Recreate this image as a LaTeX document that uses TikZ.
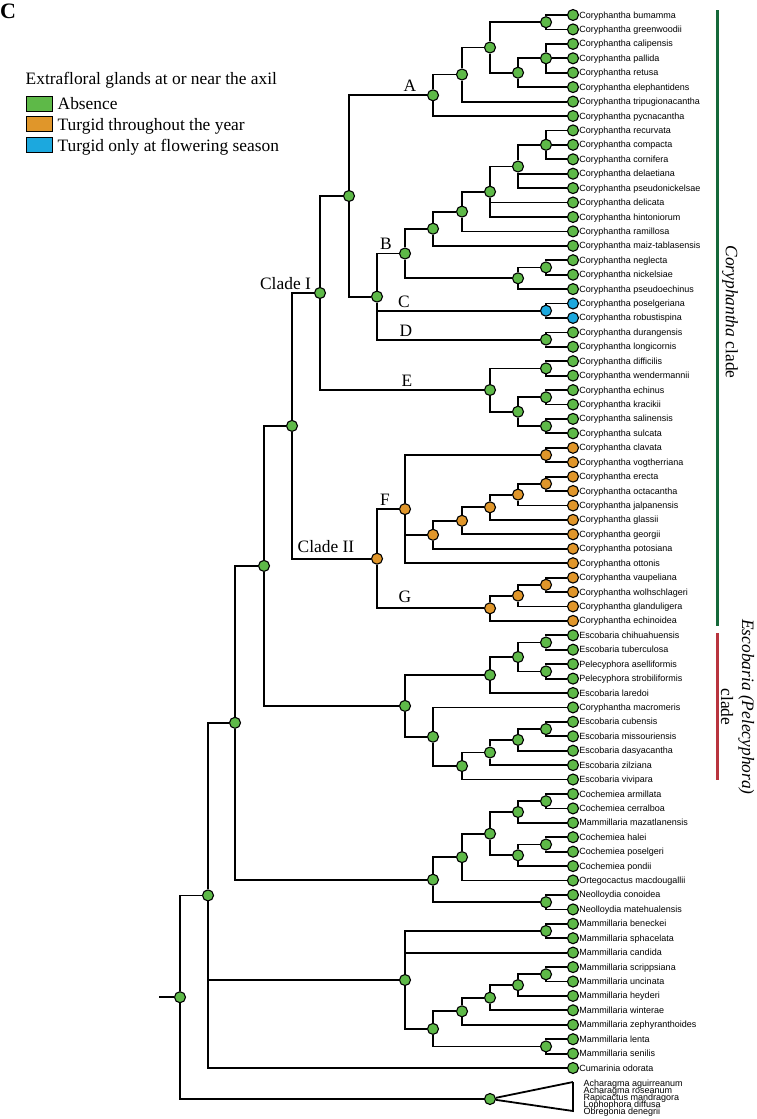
\documentclass[tikz,border=0pt]{standalone}
\usepackage{fontspec}
\setmainfont{Liberation Serif}
\newfontfamily\taxfont{Liberation Sans}
\usepackage{tikz}
\definecolor{absent}{RGB}{94,185,72}
\definecolor{yearly}{RGB}{224,150,42}
\definecolor{seasonal}{RGB}{28,168,222}
\definecolor{corygreen}{RGB}{22,104,58}
\definecolor{escored}{RGB}{184,52,62}
\tikzstyle{state}=[circle, draw, line width=1.1pt, inner sep=0pt, minimum size=11pt, label distance=4.5pt]
\tikzstyle{absence}=[state, fill=absent]
\tikzstyle{turgid}=[state, fill=yearly]
\tikzstyle{flowering}=[state, fill=seasonal]
\tikzstyle{taxon}=[font=\taxfont\fontsize{9}{9}\selectfont, inner sep=0pt, text height=7pt, text depth=1pt]
\tikzstyle{clade}=[font=\fontsize{17.4}{21}\selectfont, inner sep=0pt]
\tikzstyle{legbox}=[draw, line width=1pt, minimum width=26pt, minimum height=15pt, inner sep=0pt]
\newcommand{\absence}{\node[absence]}
\newcommand{\turgid}{\node[turgid]}
\newcommand{\flowering}{\node[flowering]}

\begin{document}
\begin{tikzpicture}[x=1pt, y=-1pt
    ,every edge/.style={draw, line width=1.8pt, to path={|- (\tikztotarget)}}
    ,straight/.style={to path={-- (\tikztotarget)}}
]
\useasboundingbox (0,0) rectangle (756,1119);
% panel and legend
\node[anchor=base west, inner sep=0pt, font=\bfseries\fontsize{22}{22}\selectfont] (panel) at (0,18.5) {C};
\node[clade, anchor=base west] (legtitle) at (25.5,84) {Extrafloral glands at or near the axil};
\node[legbox, fill=absent] (kabs) at (39.5,103.5) {};
\node[legbox, fill=yearly] (kyear) at (39.5,123.5) {};
\node[legbox, fill=seasonal] (kseas) at (39.5,144.5) {};
\node[clade, anchor=base west] (tabs) at (57.5,109.5) {Absence};
\node[clade, anchor=base west] (tyear) at (57.5,130) {Turgid throughout the year};
\node[clade, anchor=base west] (tseas) at (57.5,151) {Turgid only at flowering season};

% tips
\absence (bum) at (573,15.0) [label={[taxon]right:Coryphantha bumamma}] {};
\absence (gre) at (573,29.4) [label={[taxon]right:Coryphantha greenwoodii}] {};
\absence (cal) at (573,43.9) [label={[taxon]right:Coryphantha calipensis}] {};
\absence (pal) at (573,58.3) [label={[taxon]right:Coryphantha pallida}] {};
\absence (ret) at (573,72.7) [label={[taxon]right:Coryphantha retusa}] {};
\absence (ele) at (573,87.1) [label={[taxon]right:Coryphantha elephantidens}] {};
\absence (tri) at (573,101.6) [label={[taxon]right:Coryphantha tripugionacantha}] {};
\absence (pyc) at (573,116.0) [label={[taxon]right:Coryphantha pycnacantha}] {};
\absence (rec) at (573,130.4) [label={[taxon]right:Coryphantha recurvata}] {};
\absence (com) at (573,144.8) [label={[taxon]right:Coryphantha compacta}] {};
\absence (cor) at (573,159.3) [label={[taxon]right:Coryphantha cornifera}] {};
\absence (dlt) at (573,173.7) [label={[taxon]right:Coryphantha delaetiana}] {};
\absence (psn) at (573,188.1) [label={[taxon]right:Coryphantha pseudonickelsae}] {};
\absence (dlc) at (573,202.5) [label={[taxon]right:Coryphantha delicata}] {};
\absence (hin) at (573,217.0) [label={[taxon]right:Coryphantha hintoniorum}] {};
\absence (ram) at (573,231.4) [label={[taxon]right:Coryphantha ramillosa}] {};
\absence (mai) at (573,245.8) [label={[taxon]right:Coryphantha maiz-tablasensis}] {};
\absence (neg) at (573,260.2) [label={[taxon]right:Coryphantha neglecta}] {};
\absence (nic) at (573,274.7) [label={[taxon]right:Coryphantha nickelsiae}] {};
\absence (pse) at (573,289.1) [label={[taxon]right:Coryphantha pseudoechinus}] {};
\flowering (pos) at (573,303.5) [label={[taxon]right:Coryphantha poselgeriana}] {};
\flowering (rob) at (573,317.9) [label={[taxon]right:Coryphantha robustispina}] {};
\absence (dur) at (573,332.4) [label={[taxon]right:Coryphantha durangensis}] {};
\absence (lon) at (573,346.8) [label={[taxon]right:Coryphantha longicornis}] {};
\absence (dif) at (573,361.2) [label={[taxon]right:Coryphantha difficilis}] {};
\absence (wen) at (573,375.6) [label={[taxon]right:Coryphantha wendermannii}] {};
\absence (ech) at (573,390.1) [label={[taxon]right:Coryphantha echinus}] {};
\absence (kra) at (573,404.5) [label={[taxon]right:Coryphantha kracikii}] {};
\absence (sal) at (573,418.9) [label={[taxon]right:Coryphantha salinensis}] {};
\absence (sul) at (573,433.3) [label={[taxon]right:Coryphantha sulcata}] {};
\turgid (cla) at (573,447.8) [label={[taxon]right:Coryphantha clavata}] {};
\turgid (vog) at (573,462.2) [label={[taxon]right:Coryphantha vogtherriana}] {};
\turgid (ere) at (573,476.6) [label={[taxon]right:Coryphantha erecta}] {};
\turgid (oct) at (573,491.0) [label={[taxon]right:Coryphantha octacantha}] {};
\turgid (jal) at (573,505.5) [label={[taxon]right:Coryphantha jalpanensis}] {};
\turgid (gla) at (573,519.9) [label={[taxon]right:Coryphantha glassii}] {};
\turgid (geo) at (573,534.3) [label={[taxon]right:Coryphantha georgii}] {};
\turgid (pot) at (573,548.7) [label={[taxon]right:Coryphantha potosiana}] {};
\turgid (ott) at (573,563.2) [label={[taxon]right:Coryphantha ottonis}] {};
\turgid (vau) at (573,577.6) [label={[taxon]right:Coryphantha vaupeliana}] {};
\turgid (wol) at (573,592.0) [label={[taxon]right:Coryphantha wolhschlageri}] {};
\turgid (gld) at (573,606.4) [label={[taxon]right:Coryphantha glanduligera}] {};
\turgid (eci) at (573,620.9) [label={[taxon]right:Coryphantha echinoidea}] {};
\absence (chi) at (573,635.3) [label={[taxon]right:Escobaria chihuahuensis}] {};
\absence (tub) at (573,649.7) [label={[taxon]right:Escobaria tuberculosa}] {};
\absence (ase) at (573,664.1) [label={[taxon]right:Pelecyphora aselliformis}] {};
\absence (str) at (573,678.6) [label={[taxon]right:Pelecyphora strobiliformis}] {};
\absence (lar) at (573,693.0) [label={[taxon]right:Escobaria laredoi}] {};
\absence (mac) at (573,707.4) [label={[taxon]right:Coryphantha macromeris}] {};
\absence (cub) at (573,721.8) [label={[taxon]right:Escobaria cubensis}] {};
\absence (mis) at (573,736.3) [label={[taxon]right:Escobaria missouriensis}] {};
\absence (das) at (573,750.7) [label={[taxon]right:Escobaria dasyacantha}] {};
\absence (zil) at (573,765.1) [label={[taxon]right:Escobaria zilziana}] {};
\absence (viv) at (573,779.5) [label={[taxon]right:Escobaria vivipara}] {};
\absence (arm) at (573,794.0) [label={[taxon]right:Cochemiea armillata}] {};
\absence (cer) at (573,808.4) [label={[taxon]right:Cochemiea cerralboa}] {};
\absence (maz) at (573,822.8) [label={[taxon]right:Mammillaria mazatlanensis}] {};
\absence (hal) at (573,837.2) [label={[taxon]right:Cochemiea halei}] {};
\absence (psg) at (573,851.7) [label={[taxon]right:Cochemiea poselgeri}] {};
\absence (pon) at (573,866.1) [label={[taxon]right:Cochemiea pondii}] {};
\absence (ort) at (573,880.5) [label={[taxon]right:Ortegocactus macdougallii}] {};
\absence (con) at (573,894.9) [label={[taxon]right:Neolloydia conoidea}] {};
\absence (mat) at (573,909.4) [label={[taxon]right:Neolloydia matehualensis}] {};
\absence (ben) at (573,923.8) [label={[taxon]right:Mammillaria beneckei}] {};
\absence (sph) at (573,938.2) [label={[taxon]right:Mammillaria sphacelata}] {};
\absence (can) at (573,952.6) [label={[taxon]right:Mammillaria candida}] {};
\absence (scr) at (573,967.1) [label={[taxon]right:Mammillaria scrippsiana}] {};
\absence (unc) at (573,981.5) [label={[taxon]right:Mammillaria uncinata}] {};
\absence (hey) at (573,995.9) [label={[taxon]right:Mammillaria heyderi}] {};
\absence (win) at (573,1010.3) [label={[taxon]right:Mammillaria winterae}] {};
\absence (zep) at (573,1024.8) [label={[taxon]right:Mammillaria zephyranthoides}] {};
\absence (len) at (573,1039.2) [label={[taxon]right:Mammillaria lenta}] {};
\absence (sen) at (573,1053.6) [label={[taxon]right:Mammillaria senilis}] {};
\absence (cum) at (573,1068.0) [label={[taxon]right:Cumarinia odorata}] {};

% ancestral states
\absence (bg) at (546,22.2) {};
\absence (cpr) at (546,58.3) {};
\absence (cpre) at (518,72.7) {};
\absence (a4) at (490,47.5) {};
\absence (a5) at (462,74.5) {};
\absence (cA) at (433,95.3) {};
\absence (rcc) at (546,144.8) {};
\absence (b2) at (518,166.5) {};
\absence (b3) at (490,191.7) {};
\absence (b4) at (462,211.6) {};
\absence (b5) at (433,228.7) {};
\absence (nn) at (546,267.4) {};
\absence (b6) at (518,278.3) {};
\absence (cB) at (405,253.5) {};
\flowering (cC) at (546,310.7) {};
\absence (cD) at (546,339.6) {};
\absence (bcd) at (377,296.6) {};
\absence (abcd) at (349,196.0) {};
\absence (dw) at (546,368.4) {};
\absence (ek) at (546,397.3) {};
\absence (ss) at (546,426.1) {};
\absence (e2) at (518,411.7) {};
\absence (cE) at (490,390.0) {};
\absence (cladeI) at (320,293.0) {};
\turgid (cv) at (546,455.0) {};
\turgid (eo) at (546,483.8) {};
\turgid (f2) at (518,494.6) {};
\turgid (f3) at (490,507.3) {};
\turgid (f4) at (462,520.8) {};
\turgid (f5) at (433,534.8) {};
\turgid (cF) at (405,509.1) {};
\turgid (vw) at (546,584.8) {};
\turgid (g2) at (518,595.6) {};
\turgid (cG) at (490,608.3) {};
\turgid (cladeII) at (377,558.7) {};
\absence (core) at (292,425.9) {};
\absence (ct) at (546,642.5) {};
\absence (as) at (546,671.4) {};
\absence (s1) at (518,657.0) {};
\absence (s2) at (490,675.0) {};
\absence (cm) at (546,729.1) {};
\absence (s3) at (518,739.9) {};
\absence (s4) at (490,752.5) {};
\absence (s5) at (462,766.0) {};
\absence (s6) at (433,736.7) {};
\absence (esco) at (405,705.9) {};
\absence (cory) at (264,565.9) {};
\absence (ac) at (546,801.2) {};
\absence (m1) at (518,812.0) {};
\absence (hp) at (546,844.5) {};
\absence (m2) at (518,855.3) {};
\absence (m3) at (490,833.7) {};
\absence (m4) at (462,857.1) {};
\absence (neo) at (546,902.2) {};
\absence (coch) at (433,879.7) {};
\absence (big) at (235,722.8) {};
\absence (bs) at (546,931.0) {};
\absence (su) at (546,974.3) {};
\absence (k2) at (518,985.1) {};
\absence (k3) at (490,997.7) {};
\absence (k4) at (462,1011.3) {};
\absence (ls) at (546,1046.4) {};
\absence (k5) at (433,1028.9) {};
\absence (mam) at (405,980.0) {};
\absence (ingroup) at (208,895.4) {};
\absence (outg) at (490,1099) {};
\absence (root) at (180,997.2) {};
\coordinate (stem) at (159,997.2);
\coordinate (tritop) at (573,1082);
\coordinate (tribot) at (573,1111);

\path
(bg) edge (bum) edge (gre)
(cpr) edge (cal) edge[straight] (pal) edge (ret)
(cpre) edge (cpr) edge (ele)
(a4) edge (bg) edge (cpre)
(a5) edge (a4) edge (tri)
(cA) edge (a5) edge (pyc)
(rcc) edge (rec) edge[straight] (com) edge (cor)
(b2) edge (rcc) edge (dlt) edge (psn)
(b3) edge (b2) edge (dlc) edge (hin)
(b4) edge (b3) edge (ram)
(b5) edge (b4) edge (mai)
(nn) edge (neg) edge (nic)
(b6) edge (nn) edge (pse)
(cB) edge (b5) edge (b6)
(cC) edge (pos) edge (rob)
(cD) edge (dur) edge (lon)
(bcd) edge (cB) edge (cC) edge (cD)
(abcd) edge (cA) edge (bcd)
(dw) edge (dif) edge (wen)
(ek) edge (ech) edge (kra)
(ss) edge (sal) edge (sul)
(e2) edge (ek) edge (ss)
(cE) edge (dw) edge (e2)
(cladeI) edge (abcd) edge (cE)
(cv) edge (cla) edge (vog)
(eo) edge (ere) edge (oct)
(f2) edge (eo) edge (jal)
(f3) edge (f2) edge (gla)
(f4) edge (f3) edge (geo)
(f5) edge (f4) edge (pot)
(cF) edge (cv) edge (f5) edge (ott)
(vw) edge (vau) edge (wol)
(g2) edge (vw) edge (gld)
(cG) edge (g2) edge (eci)
(cladeII) edge (cF) edge (cG)
(core) edge (cladeI) edge (cladeII)
(ct) edge (chi) edge (tub)
(as) edge (ase) edge (str)
(s1) edge (ct) edge (as)
(s2) edge (s1) edge (lar)
(cm) edge (cub) edge (mis)
(s3) edge (cm) edge (das)
(s4) edge (s3) edge (zil)
(s5) edge (s4) edge (viv)
(s6) edge (mac) edge (s5)
(esco) edge (s2) edge (s6)
(cory) edge (core) edge (esco)
(ac) edge (arm) edge (cer)
(m1) edge (ac) edge (maz)
(hp) edge (hal) edge (psg)
(m2) edge (hp) edge (pon)
(m3) edge (m1) edge (m2)
(m4) edge (m3) edge (ort)
(neo) edge (con) edge (mat)
(coch) edge (m4) edge (neo)
(big) edge (cory) edge (coch)
(bs) edge (ben) edge (sph)
(su) edge (scr) edge (unc)
(k2) edge (su) edge (hey)
(k3) edge (k2) edge (win)
(k4) edge (k3) edge (zep)
(ls) edge (len) edge (sen)
(k5) edge (k4) edge (ls)
(mam) edge (bs) edge (can) edge (k5)
(ingroup) edge (big) edge (mam) edge (cum)
(root) edge (ingroup) edge (outg)
(stem) edge[straight] (root)
;
% collapsed outgroup
\draw[line width=1.8pt] (tritop) -- (tribot) -- (outg) -- (tritop);
\node[taxon, anchor=west] (out1) at (583.5,1083.3) {Acharagma aguirreanum};
\node[taxon, anchor=west] (out2) at (583.5,1090.3) {Acharagma roseanum};
\node[taxon, anchor=west] (out3) at (583.5,1097.3) {Rapicactus mandragora};
\node[taxon, anchor=west] (out4) at (583.5,1104.3) {Lophophora diffusa};
\node[taxon, anchor=west] (out5) at (583.5,1111.3) {Obregonia denegrii};

% clade labels
\node[clade] (labA) at (410,86) {A};
\node[clade] (labB) at (386,244) {B};
\node[clade] (labC) at (404,302) {C};
\node[clade] (labD) at (406,331) {D};
\node[clade] (labE) at (407,381) {E};
\node[clade] (labF) at (385,500) {F};
\node[clade] (labG) at (405,597) {G};
\node[clade] (labI) at (285.5,284) {Clade I};
\node[clade] (labII) at (326,547) {Clade II};

% bars on the right
\coordinate (corytop) at (717,10);
\coordinate (corybot) at (717,626);
\coordinate (escotop) at (717,633);
\coordinate (escobot) at (717,780);
\draw[corygreen, line width=3pt] (corytop) -- (corybot);
\draw[escored, line width=3pt] (escotop) -- (escobot);
\node[clade, rotate=-90] (corylab) at (730,312) {\textit{Coryphantha} clade};
\node[clade, rotate=-90, align=center] (escolab) at (737.5,707) {\textit{Escobaria (Pelecyphora)}\\clade};
\end{tikzpicture}
\end{document}
